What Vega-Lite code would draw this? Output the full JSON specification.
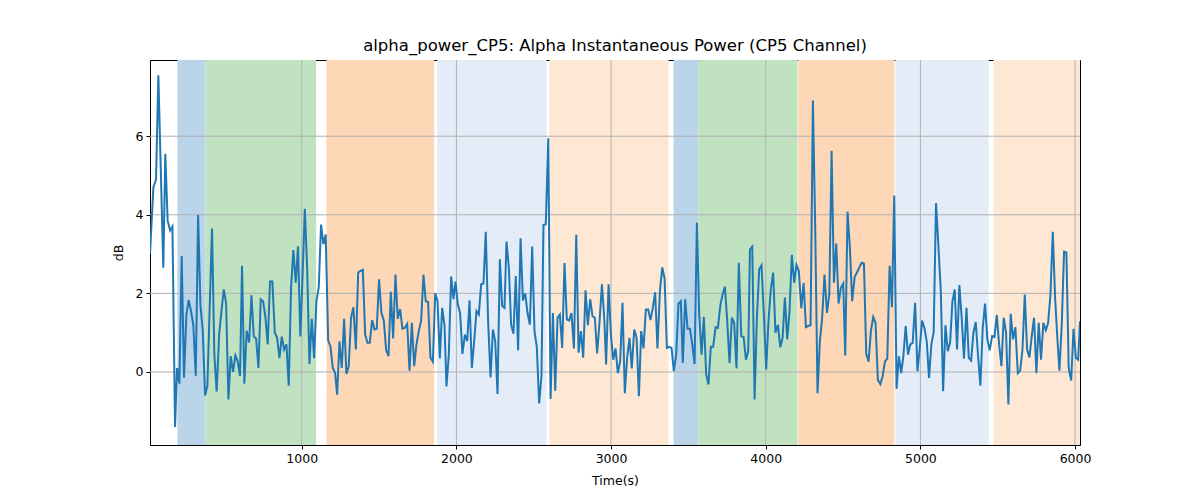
{
  "$schema": "https://vega.github.io/schema/vega-lite/v6.json",
  "width": 930,
  "height": 385,
  "autosize": "none",
  "padding": {"left": 150, "top": 60, "right": 120, "bottom": 55},
  "title": {
    "text": "alpha_power_CP5: Alpha Instantaneous Power (CP5 Channel)",
    "font": "DejaVu Sans",
    "fontSize": 16.5,
    "fontWeight": "normal",
    "color": "black",
    "anchor": "middle",
    "offset": 5
  },
  "config": {
    "view": {"stroke": "black", "strokeWidth": 1},
    "axis": {
      "labelFont": "DejaVu Sans",
      "labelFontSize": 12.5,
      "labelColor": "black",
      "titleFont": "DejaVu Sans",
      "titleFontSize": 12.5,
      "titleFontWeight": "normal",
      "titleColor": "black",
      "domainColor": "black",
      "tickColor": "black",
      "tickSize": 4,
      "labelPadding": 3,
      "grid": false
    }
  },
  "datasets": {
    "bands": [
      {"start": 196, "end": 377, "kind": "k1"},
      {"start": 377, "end": 1093, "kind": "k2"},
      {"start": 1160, "end": 1856, "kind": "k3"},
      {"start": 1876, "end": 2583, "kind": "k4"},
      {"start": 2602, "end": 3372, "kind": "k5"},
      {"start": 3404, "end": 3564, "kind": "k1"},
      {"start": 3564, "end": 4206, "kind": "k2"},
      {"start": 4210, "end": 4831, "kind": "k3"},
      {"start": 4838, "end": 5442, "kind": "k4"},
      {"start": 5472, "end": 6032, "kind": "k5"}
    ],
    "xgrid": [{"t": 1000}, {"t": 2000}, {"t": 3000}, {"t": 4000}, {"t": 5000}, {"t": 6000}],
    "ygrid": [{"v": 0}, {"v": 2}, {"v": 4}, {"v": 6}],
    "power": [
      {"t": 19, "v": 3.0}, {"t": 41, "v": 4.7}, {"t": 58, "v": 4.9}, {"t": 73, "v": 7.55},
      {"t": 105, "v": 2.65}, {"t": 118, "v": 5.55}, {"t": 133, "v": 3.85}, {"t": 149, "v": 3.6},
      {"t": 164, "v": 3.7}, {"t": 181, "v": -1.4}, {"t": 194, "v": 0.1}, {"t": 209, "v": -0.3},
      {"t": 224, "v": 2.95}, {"t": 239, "v": -0.15}, {"t": 254, "v": 1.45}, {"t": 269, "v": 1.83},
      {"t": 284, "v": 1.55}, {"t": 299, "v": 1.2}, {"t": 315, "v": -0.1}, {"t": 330, "v": 4.0},
      {"t": 345, "v": 1.7}, {"t": 360, "v": 1.05}, {"t": 375, "v": -0.6}, {"t": 390, "v": -0.35},
      {"t": 420, "v": 3.65}, {"t": 435, "v": 0.45}, {"t": 450, "v": -0.5}, {"t": 466, "v": 0.95},
      {"t": 481, "v": 1.55}, {"t": 496, "v": 2.1}, {"t": 511, "v": 1.75}, {"t": 526, "v": -0.7},
      {"t": 541, "v": 0.4}, {"t": 556, "v": 0.0}, {"t": 571, "v": 0.42}, {"t": 586, "v": 0.27},
      {"t": 601, "v": -0.1}, {"t": 614, "v": 2.7}, {"t": 629, "v": -0.3}, {"t": 644, "v": 1.05},
      {"t": 660, "v": 0.75}, {"t": 675, "v": 1.95}, {"t": 690, "v": 0.9}, {"t": 705, "v": 0.85},
      {"t": 720, "v": 0.1}, {"t": 735, "v": 1.85}, {"t": 750, "v": 1.8}, {"t": 765, "v": 1.4},
      {"t": 780, "v": 0.7}, {"t": 795, "v": 2.3}, {"t": 810, "v": 2.3}, {"t": 826, "v": 1.0},
      {"t": 841, "v": 0.87}, {"t": 856, "v": 0.35}, {"t": 871, "v": 0.9}, {"t": 886, "v": 0.57},
      {"t": 901, "v": 0.7}, {"t": 916, "v": -0.35}, {"t": 931, "v": 2.15}, {"t": 946, "v": 3.1},
      {"t": 961, "v": 2.27}, {"t": 976, "v": 3.2}, {"t": 991, "v": 0.9}, {"t": 1005, "v": 2.4},
      {"t": 1020, "v": 4.15}, {"t": 1035, "v": 2.65}, {"t": 1050, "v": 0.2}, {"t": 1065, "v": 1.35},
      {"t": 1080, "v": 0.35}, {"t": 1095, "v": 1.8}, {"t": 1110, "v": 2.15}, {"t": 1125, "v": 3.75},
      {"t": 1140, "v": 3.25}, {"t": 1155, "v": 3.5}, {"t": 1171, "v": 0.8}, {"t": 1186, "v": 0.65},
      {"t": 1201, "v": 0.1}, {"t": 1216, "v": -0.03}, {"t": 1229, "v": -0.58}, {"t": 1244, "v": 0.78},
      {"t": 1259, "v": 0.1}, {"t": 1274, "v": 1.35}, {"t": 1289, "v": -0.05}, {"t": 1304, "v": 0.15},
      {"t": 1319, "v": 1.38}, {"t": 1334, "v": 1.65}, {"t": 1350, "v": 0.57}, {"t": 1365, "v": 2.53},
      {"t": 1380, "v": 2.57}, {"t": 1395, "v": 2.6}, {"t": 1410, "v": 0.95}, {"t": 1425, "v": 0.74},
      {"t": 1440, "v": 0.74}, {"t": 1455, "v": 1.32}, {"t": 1470, "v": 1.08}, {"t": 1485, "v": 1.1},
      {"t": 1500, "v": 2.36}, {"t": 1515, "v": 1.52}, {"t": 1531, "v": 1.3}, {"t": 1546, "v": 0.55},
      {"t": 1561, "v": 0.4}, {"t": 1576, "v": 2.04}, {"t": 1591, "v": 0.85}, {"t": 1606, "v": 2.48},
      {"t": 1621, "v": 1.35}, {"t": 1636, "v": 1.6}, {"t": 1651, "v": 1.1}, {"t": 1666, "v": 1.12},
      {"t": 1682, "v": 1.22}, {"t": 1697, "v": 0.03}, {"t": 1712, "v": 1.25}, {"t": 1727, "v": 0.15},
      {"t": 1742, "v": 0.7}, {"t": 1757, "v": 1.04}, {"t": 1772, "v": 1.3}, {"t": 1787, "v": 2.48},
      {"t": 1802, "v": 1.8}, {"t": 1817, "v": 1.78}, {"t": 1832, "v": 0.37}, {"t": 1848, "v": 0.26},
      {"t": 1863, "v": 2.0}, {"t": 1878, "v": 1.8}, {"t": 1893, "v": 0.34}, {"t": 1908, "v": 1.63},
      {"t": 1923, "v": 1.2}, {"t": 1936, "v": -0.37}, {"t": 1951, "v": 0.44}, {"t": 1966, "v": 2.43},
      {"t": 1981, "v": 1.85}, {"t": 1994, "v": 2.3}, {"t": 2009, "v": 1.72}, {"t": 2024, "v": 1.5},
      {"t": 2039, "v": 0.46}, {"t": 2055, "v": 0.95}, {"t": 2070, "v": 0.78}, {"t": 2085, "v": 1.82},
      {"t": 2100, "v": 0.1}, {"t": 2115, "v": 0.78}, {"t": 2130, "v": 1.55}, {"t": 2145, "v": 1.46},
      {"t": 2160, "v": 2.23}, {"t": 2175, "v": 2.25}, {"t": 2190, "v": 3.57}, {"t": 2205, "v": 1.3},
      {"t": 2221, "v": -0.14}, {"t": 2236, "v": 1.08}, {"t": 2251, "v": 0.78}, {"t": 2266, "v": -0.56},
      {"t": 2281, "v": 2.87}, {"t": 2296, "v": 1.68}, {"t": 2311, "v": 1.63}, {"t": 2324, "v": 3.32},
      {"t": 2339, "v": 2.66}, {"t": 2354, "v": 1.2}, {"t": 2369, "v": 0.97}, {"t": 2384, "v": 2.44},
      {"t": 2399, "v": 0.55}, {"t": 2415, "v": 3.4}, {"t": 2430, "v": 1.82}, {"t": 2445, "v": 2.0},
      {"t": 2460, "v": 1.5}, {"t": 2475, "v": 1.2}, {"t": 2490, "v": 3.19}, {"t": 2505, "v": 1.04},
      {"t": 2520, "v": 0.63}, {"t": 2535, "v": -0.8}, {"t": 2550, "v": -0.11}, {"t": 2563, "v": 3.74},
      {"t": 2578, "v": 3.76}, {"t": 2594, "v": 5.95}, {"t": 2609, "v": -0.69}, {"t": 2624, "v": 1.5},
      {"t": 2639, "v": -0.48}, {"t": 2654, "v": 1.38}, {"t": 2669, "v": 1.46}, {"t": 2684, "v": 0.61},
      {"t": 2699, "v": 2.77}, {"t": 2714, "v": 1.34}, {"t": 2729, "v": 1.31}, {"t": 2744, "v": 1.5},
      {"t": 2760, "v": 0.6}, {"t": 2775, "v": 3.49}, {"t": 2790, "v": 0.49}, {"t": 2805, "v": 1.04},
      {"t": 2820, "v": 0.36}, {"t": 2835, "v": 2.08}, {"t": 2850, "v": 1.19}, {"t": 2865, "v": 1.85},
      {"t": 2880, "v": 1.42}, {"t": 2895, "v": 1.38}, {"t": 2910, "v": 0.47}, {"t": 2926, "v": 1.3},
      {"t": 2941, "v": 2.23}, {"t": 2956, "v": 1.38}, {"t": 2968, "v": 0.19}, {"t": 2984, "v": 2.23},
      {"t": 2999, "v": 0.95}, {"t": 3014, "v": 0.31}, {"t": 3029, "v": 0.6}, {"t": 3044, "v": -0.03},
      {"t": 3059, "v": 0.27}, {"t": 3074, "v": 1.76}, {"t": 3089, "v": -0.54}, {"t": 3104, "v": 0.36},
      {"t": 3119, "v": 0.87}, {"t": 3134, "v": 0.09}, {"t": 3150, "v": 1.08}, {"t": 3165, "v": 0.87},
      {"t": 3180, "v": -0.62}, {"t": 3195, "v": 1.04}, {"t": 3210, "v": 0.6}, {"t": 3225, "v": 1.59},
      {"t": 3240, "v": 1.59}, {"t": 3255, "v": 1.32}, {"t": 3270, "v": 1.63}, {"t": 3285, "v": 2.03},
      {"t": 3300, "v": 0.6}, {"t": 3316, "v": 2.06}, {"t": 3331, "v": 2.66}, {"t": 3346, "v": 2.38},
      {"t": 3361, "v": 0.61}, {"t": 3376, "v": 0.64}, {"t": 3391, "v": 0.61}, {"t": 3406, "v": 0.02},
      {"t": 3421, "v": 0.44}, {"t": 3436, "v": 1.74}, {"t": 3451, "v": 1.8}, {"t": 3464, "v": 0.23},
      {"t": 3479, "v": 1.85}, {"t": 3495, "v": 1.1}, {"t": 3510, "v": 1.1}, {"t": 3525, "v": 0.7},
      {"t": 3540, "v": 0.2}, {"t": 3555, "v": 3.8}, {"t": 3570, "v": 1.46}, {"t": 3585, "v": 0.44},
      {"t": 3600, "v": 1.4}, {"t": 3615, "v": -0.07}, {"t": 3630, "v": -0.32}, {"t": 3645, "v": 0.64},
      {"t": 3660, "v": 0.64}, {"t": 3676, "v": 1.14}, {"t": 3691, "v": 1.12}, {"t": 3706, "v": 1.68},
      {"t": 3721, "v": 1.97}, {"t": 3736, "v": 2.17}, {"t": 3751, "v": 1.3}, {"t": 3766, "v": 0.23},
      {"t": 3781, "v": 1.38}, {"t": 3796, "v": 1.25}, {"t": 3811, "v": 0.09}, {"t": 3826, "v": 2.78},
      {"t": 3842, "v": 0.91}, {"t": 3857, "v": 0.89}, {"t": 3872, "v": 0.31}, {"t": 3887, "v": 0.53},
      {"t": 3898, "v": 3.12}, {"t": 3913, "v": 3.19}, {"t": 3928, "v": -0.7}, {"t": 3943, "v": 1.38},
      {"t": 3958, "v": 2.61}, {"t": 3973, "v": 2.71}, {"t": 3988, "v": 1.46}, {"t": 4003, "v": 0.06},
      {"t": 4018, "v": 1.3}, {"t": 4033, "v": 2.1}, {"t": 4048, "v": 2.53}, {"t": 4063, "v": 1.0},
      {"t": 4079, "v": 1.2}, {"t": 4094, "v": 0.63}, {"t": 4109, "v": 0.87}, {"t": 4124, "v": 1.89},
      {"t": 4139, "v": 0.83}, {"t": 4154, "v": 1.55}, {"t": 4169, "v": 2.98}, {"t": 4184, "v": 2.27},
      {"t": 4199, "v": 2.72}, {"t": 4214, "v": 2.57}, {"t": 4230, "v": 1.62}, {"t": 4245, "v": 2.27},
      {"t": 4260, "v": 1.14}, {"t": 4275, "v": 1.17}, {"t": 4290, "v": 1.19}, {"t": 4305, "v": 6.91},
      {"t": 4320, "v": 3.68}, {"t": 4335, "v": -0.54}, {"t": 4350, "v": 0.78}, {"t": 4365, "v": 1.38},
      {"t": 4380, "v": 2.48}, {"t": 4396, "v": 1.5}, {"t": 4411, "v": 1.97}, {"t": 4426, "v": 5.63},
      {"t": 4441, "v": 2.27}, {"t": 4456, "v": 3.27}, {"t": 4471, "v": 1.74}, {"t": 4486, "v": 2.14},
      {"t": 4501, "v": 2.25}, {"t": 4514, "v": 0.42}, {"t": 4529, "v": 4.08}, {"t": 4544, "v": 3.17},
      {"t": 4559, "v": 1.8}, {"t": 4575, "v": 2.42}, {"t": 4590, "v": 2.53}, {"t": 4605, "v": 2.66},
      {"t": 4620, "v": 2.78}, {"t": 4635, "v": 2.76}, {"t": 4650, "v": 0.46}, {"t": 4665, "v": 0.26},
      {"t": 4680, "v": 1.04}, {"t": 4695, "v": 1.4}, {"t": 4710, "v": 1.25}, {"t": 4725, "v": -0.2},
      {"t": 4741, "v": -0.31}, {"t": 4756, "v": -0.11}, {"t": 4771, "v": 0.27}, {"t": 4786, "v": 0.34},
      {"t": 4801, "v": 2.7}, {"t": 4816, "v": 1.65}, {"t": 4831, "v": 4.49}, {"t": 4846, "v": -0.43},
      {"t": 4861, "v": 0.4}, {"t": 4876, "v": -0.03}, {"t": 4890, "v": 0.4}, {"t": 4905, "v": 1.17},
      {"t": 4920, "v": 0.44}, {"t": 4935, "v": 0.7}, {"t": 4950, "v": 0.74}, {"t": 4966, "v": 1.76},
      {"t": 4981, "v": 0.02}, {"t": 4996, "v": 0.61}, {"t": 5011, "v": 1.31}, {"t": 5026, "v": 1.12},
      {"t": 5041, "v": 0.78}, {"t": 5056, "v": -0.15}, {"t": 5071, "v": 0.7}, {"t": 5086, "v": 1.02},
      {"t": 5101, "v": 4.3}, {"t": 5116, "v": 3.25}, {"t": 5132, "v": 2.06}, {"t": 5147, "v": -0.49},
      {"t": 5162, "v": 1.19}, {"t": 5177, "v": 0.53}, {"t": 5192, "v": 0.74}, {"t": 5207, "v": 1.79},
      {"t": 5222, "v": 2.1}, {"t": 5237, "v": 0.57}, {"t": 5252, "v": 2.21}, {"t": 5267, "v": 1.38},
      {"t": 5282, "v": 0.34}, {"t": 5298, "v": 1.63}, {"t": 5313, "v": 0.36}, {"t": 5328, "v": 0.29},
      {"t": 5343, "v": 1.0}, {"t": 5358, "v": 1.27}, {"t": 5373, "v": 0.4}, {"t": 5388, "v": -0.35},
      {"t": 5403, "v": 1.12}, {"t": 5418, "v": 1.74}, {"t": 5433, "v": 0.83}, {"t": 5448, "v": 0.55},
      {"t": 5464, "v": 0.91}, {"t": 5479, "v": 0.89}, {"t": 5494, "v": 1.45}, {"t": 5509, "v": 0.7},
      {"t": 5524, "v": 0.15}, {"t": 5539, "v": 1.38}, {"t": 5554, "v": 1.0}, {"t": 5569, "v": -0.83},
      {"t": 5584, "v": 1.48}, {"t": 5599, "v": 0.83}, {"t": 5614, "v": 1.14}, {"t": 5630, "v": -0.03},
      {"t": 5645, "v": 0.03}, {"t": 5660, "v": 0.57}, {"t": 5675, "v": 1.97}, {"t": 5690, "v": 0.57},
      {"t": 5705, "v": 0.37}, {"t": 5720, "v": 0.91}, {"t": 5735, "v": 1.38}, {"t": 5750, "v": -0.03},
      {"t": 5765, "v": 1.25}, {"t": 5780, "v": 0.31}, {"t": 5795, "v": 1.25}, {"t": 5811, "v": 1.06},
      {"t": 5826, "v": 1.25}, {"t": 5841, "v": 1.97}, {"t": 5856, "v": 3.57}, {"t": 5871, "v": 1.89},
      {"t": 5886, "v": 0.83}, {"t": 5899, "v": 0.03}, {"t": 5914, "v": 1.21}, {"t": 5929, "v": 3.06},
      {"t": 5944, "v": 3.04}, {"t": 5959, "v": 0.1}, {"t": 5975, "v": -0.22}, {"t": 5990, "v": 1.1},
      {"t": 6005, "v": 0.36}, {"t": 6020, "v": 0.31}, {"t": 6032, "v": 1.29}
    ]
  },
  "layer": [
    {
      "data": {"name": "bands"},
      "mark": {"type": "rect", "clip": true},
      "encoding": {
        "x": {
          "field": "start",
          "type": "quantitative",
          "title": "Time(s)",
          "scale": {"domain": [19, 6032], "nice": false, "zero": false},
          "axis": {"values": [1000, 2000, 3000, 4000, 5000, 6000], "format": "d", "titlePadding": 10}
        },
        "x2": {"field": "end"},
        "color": {
          "field": "kind",
          "type": "nominal",
          "legend": null,
          "scale": {
            "domain": ["k1", "k2", "k3", "k4", "k5"],
            "range": ["#bad4e9", "#c0e2c0", "#fed8b6", "#e4ecf7", "#fee8d4"]
          }
        }
      }
    },
    {
      "data": {"name": "xgrid"},
      "mark": {"type": "rule", "color": "#b0b0b0", "strokeWidth": 1},
      "encoding": {
        "x": {
          "field": "t",
          "type": "quantitative",
          "title": "Time(s)",
          "axis": {"values": [1000, 2000, 3000, 4000, 5000, 6000], "format": "d", "titlePadding": 10}
        }
      }
    },
    {
      "data": {"name": "ygrid"},
      "mark": {"type": "rule", "color": "#b0b0b0", "strokeWidth": 1},
      "encoding": {
        "y": {
          "field": "v",
          "type": "quantitative",
          "title": "dB",
          "scale": {"domain": [-1.86, 7.94], "nice": false, "zero": false},
          "axis": {"values": [0, 2, 4, 6], "format": "d", "titlePadding": 10}
        }
      }
    },
    {
      "data": {"name": "power"},
      "mark": {"type": "line", "color": "#1f77b4", "strokeWidth": 2, "clip": true},
      "encoding": {
        "x": {
          "field": "t",
          "type": "quantitative",
          "title": "Time(s)",
          "axis": {"values": [1000, 2000, 3000, 4000, 5000, 6000], "format": "d", "titlePadding": 10}
        },
        "y": {
          "field": "v",
          "type": "quantitative",
          "title": "dB",
          "axis": {"values": [0, 2, 4, 6], "format": "d", "titlePadding": 10}
        }
      }
    }
  ]
}
